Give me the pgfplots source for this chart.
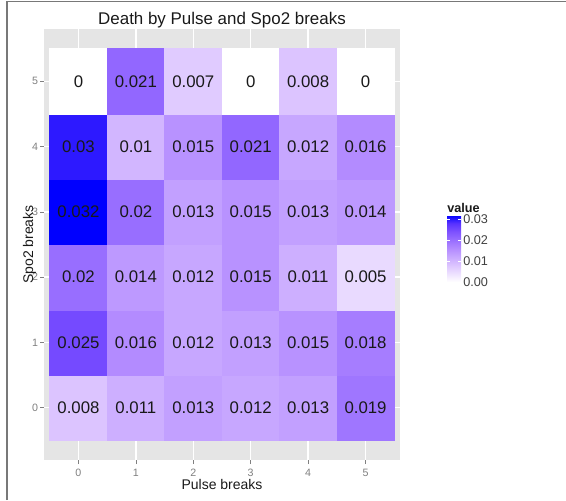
\documentclass[border=0pt]{standalone}
\usepackage{pgfplots}
\usepackage{pgfplotstable}
\pgfplotsset{compat=1.18}
\usepackage{fontspec}
\setmainfont{Liberation Sans}
\definecolor{panelgray}{RGB}{229,229,229}
\definecolor{ticklab}{RGB}{127,127,127}
\definecolor{bordergray}{RGB}{120,120,120}

\pgfplotstableread{
x y v
0 0 0.008
1 0 0.011
2 0 0.013
3 0 0.012
4 0 0.013
5 0 0.019
0 1 0.025
1 1 0.016
2 1 0.012
3 1 0.013
4 1 0.015
5 1 0.018
0 2 0.02
1 2 0.014
2 2 0.012
3 2 0.015
4 2 0.011
5 2 0.005
0 3 0.032
1 3 0.02
2 3 0.013
3 3 0.015
4 3 0.013
5 3 0.014
0 4 0.03
1 4 0.01
2 4 0.015
3 4 0.021
4 4 0.012
5 4 0.016
0 5 0
1 5 0.021
2 5 0.007
3 5 0
4 5 0.008
5 5 0
}\heat

\begin{document}
\begin{tikzpicture}
\path[use as bounding box] (0,0) rectangle (424.5pt,375pt);
\draw[bordergray, line width=1.1pt] (5.25pt,0pt) -- (5.25pt,373.9pt) -- (424.5pt,373.9pt);
\begin{axis}[
  name=main,
  at={(33pt,30pt)}, anchor=south west,
  scale only axis, width=267pt, height=323.25pt,
  xmin=-0.6, xmax=5.6, ymin=-0.8, ymax=5.8,
  axis background/.style={fill=panelgray},
  axis lines*=left, axis line style={draw=none},
  tick align=outside, major tick length=3pt,
  xtick={0,...,5}, ytick={0,...,5},
  tick style={draw=gray, line width=0.5pt},
  grid=major, major grid style={white, line width=1pt},
  ticklabel style={font=\fontsize{8}{9}\selectfont, text=ticklab},
  yticklabel style={xshift=2pt},
  /pgf/number format/assume math mode=true,
  colormap={ggblue}{rgb255(0cm)=(255,255,255); rgb255(2cm)=(220,196,255); rgb255(4cm)=(179,139,255); rgb255(6cm)=(126,82,255); rgb255(7cm)=(89,50,255); rgb255(8cm)=(0,0,255)},
  point meta min=0, point meta max=0.032,
  colorbar,
  colorbar shift/.style={},
  colorbar style={
    at={(335.25pt,163.5pt)}, anchor=south west,
    scale only axis, width=10.5pt, height=50.25pt,
    axis line style={draw=none},
    ytick={0,0.01,0.02,0.03},
    scaled y ticks=false,
    yticklabel style={font=\fontsize{9.5}{11}\selectfont, text=black!75, inner xsep=1.5pt,
      /pgf/number format/.cd, fixed, fixed zerofill, precision=2, assume math mode=true},
    tick align=inside, major tick length=2.5pt,
    ytick style={draw=white, line width=0.6pt},
  },
]
\addplot[matrix plot*, mesh/cols=6, point meta=explicit] table[x=x, y=y, meta=v] {\heat};
\addplot[draw=none, mark=none, nodes near coords, point meta=explicit symbolic,
  every node near coord/.append style={anchor=center, font=\fontsize{12.6}{14}\selectfont, text=black!90}]
  table[x=x, y=y, meta=v] {\heat};
\end{axis}
\node[anchor=base, inner sep=0pt, font=\fontsize{12.7}{15}\selectfont, text=black!90] at (166.5pt,356.25pt) {Death by Pulse and Spo2 breaks};
\node[anchor=base, inner sep=0pt, font=\fontsize{10.5}{12}\selectfont, text=black!90] at (166.5pt,8.25pt) {Pulse breaks};
\node[anchor=base, rotate=90, inner sep=0pt, font=\fontsize{10.5}{12}\selectfont, text=black!90] at (24.75pt,191.6pt) {Spo2 breaks};
\node[anchor=base west, inner sep=0pt, font=\bfseries\fontsize{9.5}{11}\selectfont, text=black!90] at (335.25pt,215.25pt) {value};
\end{tikzpicture}
\end{document}
